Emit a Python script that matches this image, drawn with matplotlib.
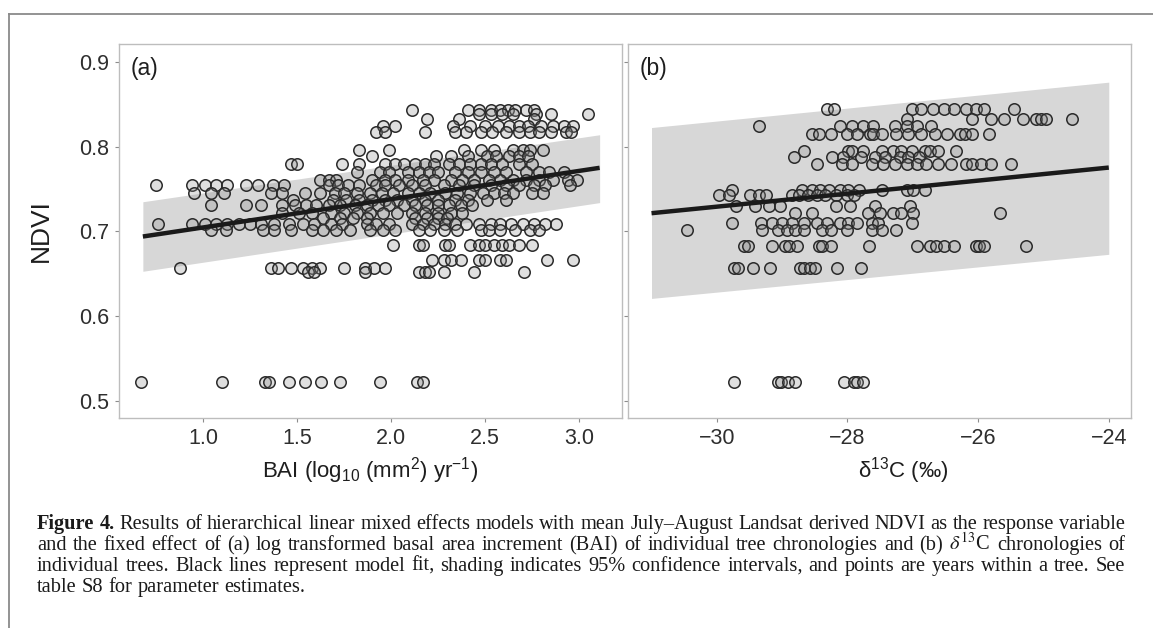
import matplotlib
matplotlib.use("Agg")
import matplotlib.pyplot as plt
from matplotlib.lines import Line2D

plt.rcParams['font.family'] = ['Liberation Sans', 'DejaVu Sans']
plt.rcParams['mathtext.fontset'] = 'custom'
plt.rcParams['mathtext.rm'] = 'Liberation Sans'
plt.rcParams['mathtext.it'] = 'Liberation Sans:italic'
plt.rcParams['mathtext.bf'] = 'Liberation Sans:bold'

W, H = 1153, 628

# =============================================================================
# Panel (a): NDVI vs BAI, points grouped by NDVI level
# =============================================================================
bai_843 = [2.11, 2.41, 2.47, 2.53, 2.58, 2.62, 2.66, 2.72, 2.76]
bai_838 = [2.47, 2.53, 2.59, 2.65, 2.77, 2.85, 3.05]
bai_833 = [2.19, 2.36, 2.76]
bai_824 = [1.96, 2.02, 2.33, 2.42, 2.50, 2.57, 2.63, 2.68, 2.73, 2.80, 2.86, 2.92, 2.97]
bai_817 = [1.92, 1.97, 2.18, 2.34, 2.40, 2.48, 2.54, 2.61, 2.68, 2.74, 2.79, 2.85, 2.93, 2.96]
bai_796 = [1.83, 1.99, 2.39, 2.48, 2.55, 2.65, 2.70, 2.74, 2.81]
bai_789 = [1.90, 2.24, 2.32, 2.41, 2.51, 2.56, 2.63, 2.68, 2.73]
bai_780 = [1.47, 1.50, 1.74, 1.83, 1.97, 2.02, 2.07, 2.13, 2.18, 2.23, 2.31, 2.36,
           2.42, 2.48, 2.53, 2.59, 2.68, 2.75]
bai_770 = [1.82, 1.94, 1.99, 2.09, 2.15, 2.20, 2.25, 2.34, 2.41, 2.48, 2.55, 2.61,
           2.72, 2.79, 2.84, 2.92]
bai_761 = [1.62, 1.67, 1.71, 1.90, 1.97, 2.02, 2.09, 2.17, 2.23, 2.32, 2.38, 2.44,
           2.52, 2.58, 2.65, 2.72, 2.79, 2.86, 2.94, 2.99]
bai_755 = [0.75, 0.94, 1.01, 1.07, 1.13, 1.23, 1.29, 1.37, 1.43, 1.67, 1.72, 1.77,
           1.83, 1.92, 1.97, 2.04, 2.11, 2.18, 2.28, 2.36, 2.44, 2.53, 2.61, 2.68,
           2.76, 2.82, 2.95]
bai_745 = [0.95, 1.04, 1.11, 1.36, 1.42, 1.54, 1.62, 1.70, 1.75, 1.82, 1.89, 1.95,
           2.01, 2.09, 2.15, 2.21, 2.29, 2.35, 2.42, 2.49, 2.55, 2.60, 2.65, 2.75, 2.81]
bai_737 = [1.48, 1.69, 1.76, 1.83, 1.90, 1.97, 2.03, 2.11, 2.18, 2.25, 2.34, 2.41,
           2.51, 2.61]
bai_731 = [1.04, 1.23, 1.31, 1.42, 1.49, 1.55, 1.60, 1.67, 1.73, 1.81, 1.87, 1.93,
           1.99, 2.07, 2.13, 2.19, 2.25, 2.31, 2.37, 2.43]
bai_722 = [1.42, 1.51, 1.58, 1.68, 1.75, 1.82, 1.89, 1.96, 2.03, 2.11, 2.18, 2.25,
           2.32, 2.38]
bai_716 = [1.64, 1.73, 1.80, 1.87, 2.13, 2.19, 2.25, 2.30]
bai_709 = [0.76, 0.94, 1.01, 1.07, 1.13, 1.19, 1.25, 1.31, 1.38, 1.46, 1.53, 1.59,
           1.68, 1.74, 1.87, 1.92, 1.99, 2.11, 2.17, 2.23, 2.29, 2.34, 2.40, 2.47,
           2.53, 2.58, 2.64, 2.70, 2.76, 2.82, 2.88]
bai_702 = [1.04, 1.12, 1.32, 1.38, 1.47, 1.58, 1.64, 1.71, 1.78, 1.89, 1.96, 2.02,
           2.15, 2.21, 2.28, 2.35, 2.48, 2.52, 2.58, 2.66, 2.74, 2.79]
bai_684 = [2.01, 2.15, 2.17, 2.29, 2.31, 2.42, 2.47, 2.50, 2.55, 2.59, 2.63, 2.68, 2.75]
bai_666 = [2.22, 2.28, 2.32, 2.37, 2.47, 2.50, 2.58, 2.61, 2.83, 2.97]
bai_657 = [0.88, 1.36, 1.40, 1.47, 1.53, 1.58, 1.62, 1.75, 1.86, 1.91, 1.97]
bai_652 = [1.56, 1.59, 1.86, 2.15, 2.18, 2.20, 2.28, 2.44, 2.71]
bai_523 = [0.67, 1.10, 1.33, 1.35, 1.46, 1.54, 1.63, 1.73, 1.94, 2.14, 2.17]

rows_a = [(0.843, bai_843), (0.838, bai_838), (0.833, bai_833), (0.824, bai_824),
          (0.817, bai_817), (0.796, bai_796), (0.789, bai_789), (0.780, bai_780),
          (0.770, bai_770), (0.761, bai_761), (0.755, bai_755), (0.745, bai_745),
          (0.737, bai_737), (0.731, bai_731), (0.722, bai_722), (0.716, bai_716),
          (0.709, bai_709), (0.702, bai_702), (0.684, bai_684), (0.666, bai_666),
          (0.657, bai_657), (0.652, bai_652), (0.523, bai_523)]

fit_x_a  = [0.68, 3.11]
fit_y_a  = [0.694, 0.775]
ci_lo_a  = [0.653, 0.734]
ci_hi_a  = [0.735, 0.814]

# =============================================================================
# Panel (b): NDVI vs d13C
# =============================================================================
d13c_844 = [-28.31, -28.20, -27.01, -26.88, -26.69, -26.53, -26.37, -26.18, -26.04,
            -25.91, -25.45]
d13c_832 = [-27.09, -26.10, -25.80, -25.61, -25.31, -25.12, -25.04, -24.96, -24.56]
d13c_824 = [-29.36, -28.12, -27.93, -27.77, -27.61, -27.28, -27.09, -26.93, -26.72]
d13c_815 = [-28.55, -28.44, -28.26, -28.01, -27.85, -27.66, -27.61, -27.47, -27.26,
            -27.07, -26.88, -26.66, -26.47, -26.28, -26.20, -26.10, -25.83]
d13c_795 = [-28.66, -27.99, -27.93, -27.77, -27.47, -27.31, -27.18, -27.01, -26.82,
            -26.74, -26.61, -26.34]
d13c_788 = [-28.82, -28.23, -28.07, -27.80, -27.58, -27.42, -27.20, -27.07, -26.91]
d13c_779 = [-28.46, -28.09, -27.93, -27.63, -27.45, -27.28, -27.09, -26.93, -26.80,
            -26.61, -26.42, -26.18, -26.10, -25.96, -25.80, -25.50]
d13c_749 = [-29.77, -28.69, -28.55, -28.42, -28.28, -28.12, -27.99, -27.82, -27.47,
            -27.09, -26.99, -26.82]
d13c_743 = [-29.96, -29.82, -29.50, -29.36, -29.25, -28.85, -28.74, -28.61, -28.47,
            -28.34, -28.17, -28.01, -27.90]
d13c_730 = [-29.71, -29.42, -29.20, -29.04, -28.17, -27.96, -27.58, -27.04]
d13c_722 = [-28.80, -28.55, -27.69, -27.50, -27.31, -27.18, -26.99, -25.67]
d13c_710 = [-29.77, -29.33, -29.15, -29.01, -28.85, -28.66, -28.47, -28.31, -28.12,
            -27.99, -27.85, -27.63, -27.53, -27.01]
d13c_702 = [-30.45, -29.31, -29.06, -28.93, -28.80, -28.66, -28.39, -28.26, -28.01,
            -27.63, -27.47, -27.26]
d13c_683 = [-29.58, -29.52, -29.15, -28.96, -28.90, -28.77, -28.44, -28.39, -28.26,
            -27.67, -26.93, -26.74, -26.64, -26.53, -26.37, -26.04, -25.99, -25.91,
            -25.27]
d13c_658 = [-29.73, -29.68, -29.45, -29.18, -28.73, -28.66, -28.58, -28.50, -28.16,
            -27.80]
d13c_523 = [-29.73, -29.07, -29.02, -28.91, -28.81, -28.05, -27.90, -27.85, -27.77]

rows_b = [(0.844, d13c_844), (0.832, d13c_832), (0.824, d13c_824), (0.815, d13c_815),
          (0.795, d13c_795), (0.788, d13c_788), (0.779, d13c_779), (0.749, d13c_749),
          (0.743, d13c_743), (0.730, d13c_730), (0.722, d13c_722), (0.710, d13c_710),
          (0.702, d13c_702), (0.683, d13c_683), (0.657, d13c_658), (0.523, d13c_523)]

fit_x_b  = [-31.0, -24.0]
fit_y_b  = [0.7215, 0.7753]
ci_lo_b  = [0.621, 0.673]
ci_hi_b  = [0.8225, 0.876]

xticks_a = [1.0, 1.5, 2.0, 2.5, 3.0]
xticks_b = [-30, -28, -26, -24]
yticks   = [0.5, 0.6, 0.7, 0.8, 0.9]

caption = [
    "Results of hierarchical linear mixed effects models with mean July\u2013August "
    "Landsat derived NDVI as the response variable",
    "and the fixed effect of (a) log transformed basal area increment (BAI) of "
    "individual tree chronologies and (b) $\\delta^{13}$C chronologies of",
    "individual trees. Black lines represent model fit, shading indicates 95% "
    "confidence intervals, and points are years within a tree. See",
    "table S8 for parameter estimates.",
]


def flatten(rows):
    xs, ys = [], []
    for y, vals in rows:
        xs += vals
        ys += [y] * len(vals)
    return xs, ys


def style_panel(ax, xlim, xticks, xlabel, label_x, tag):
    ax.set_xlim(*xlim)
    ax.set_ylim(0.480, 0.921)
    ax.set_xticks(xticks)
    ax.set_yticks(yticks)
    for s in ax.spines.values():
        s.set_color('#bdbdbd')
        s.set_linewidth(1.0)
    ax.tick_params(length=3, width=0.8, color='#8c8c8c', labelsize=15.5,
                   labelcolor='#2e2e2e', pad=4)
    ax.set_xlabel(xlabel, fontsize=16, color='#1e1e1e', va='baseline')
    ax.xaxis.set_label_coords(label_x, -60 / 374)
    ax.text(0.024, 0.935, tag, transform=ax.transAxes, fontsize=16.5,
            color='#1e1e1e', ha='left', va='center')


def draw_panel(ax, rows, fit_x, fit_y, lo, hi):
    xs, ys = flatten(rows)
    ax.fill_between(fit_x, lo, hi, color='#d7d7d7', lw=0, zorder=1)
    ax.scatter(xs, ys, s=68, facecolor=(0.55, 0.55, 0.55, 0.28),
               edgecolor='#2a2a2a', linewidth=1.1, zorder=3)
    ax.plot(fit_x, fit_y, color='#1a1a1a', lw=3.2, solid_capstyle='butt', zorder=4)


def make_words(fig, words, size):
    arts = []
    for w, bold in words:
        t = fig.text(0, 0, w, fontsize=size, family='Liberation Serif',
                     fontweight='bold' if bold else 'normal', color='#1a1a1a',
                     ha='left', va='baseline', math_fontfamily='stix')
        arts.append(t)
    return arts


def line_words(i, line):
    words = [(w, False) for w in line.split(" ")]
    if i == 0:
        words = [("Figure", True), ("4.", True)] + words
    return words


def caption_block(fig, lines, baselines, x0, x1):
    r = fig.canvas.get_renderer()
    # pick a size so the widest justified line fits with normal spacing
    base = 12.0
    ratios = []
    for i, line in enumerate(lines[:3]):
        arts = make_words(fig, line_words(i, line), base)
        nat = sum(t.get_window_extent(r).width for t in arts)
        nat += 0.25 * base * fig.dpi / 72 * (len(arts) - 1)
        ratios.append((x1 - x0) / nat)
        for t in arts:
            t.remove()
    size = base * min(ratios)

    for i, line in enumerate(lines):
        arts = make_words(fig, line_words(i, line), size)
        widths = [t.get_window_extent(r).width for t in arts]
        space = 0.25 * size * fig.dpi / 72
        if i < 3:
            space = (x1 - x0 - sum(widths)) / (len(arts) - 1)
        x = x0
        for t, w in zip(arts, widths):
            t.set_position((x / W, 1 - baselines[i] / H))
            x += w + space


def main():
    fig = plt.figure(figsize=(W / 100, H / 100), dpi=100)
    fig.patch.set_facecolor('white')

    ax_a = fig.add_axes([119 / W, 1 - 418 / H, 503 / W, 374 / H])
    ax_b = fig.add_axes([628 / W, 1 - 418 / H, 503 / W, 374 / H])

    draw_panel(ax_a, rows_a, fit_x_a, fit_y_a, ci_lo_a, ci_hi_a)
    draw_panel(ax_b, rows_b, fit_x_b, fit_y_b, ci_lo_b, ci_hi_b)

    style_panel(ax_a, (0.553, 3.229), xticks_a,
                r"BAI (log$_{10}$ (mm$^2$) yr$^{-1}$)", 0.5, "(a)")
    style_panel(ax_b, (-31.36, -23.66), xticks_b, "\u03b4$^{13}$C (\u2030)",
                0.548, "(b)")
    ax_a.set_yticklabels([f"{v:.1f}" for v in yticks])
    ax_a.set_ylabel("NDVI", fontsize=19, color='#1e1e1e', va='center')
    ax_a.yaxis.set_label_coords(-78 / 503, 0.5)
    ax_b.tick_params(labelleft=False)

    # outer frame (top and left only)
    fig.add_artist(Line2D([9 / W, 1.0], [1 - 14 / H, 1 - 14 / H],
                          transform=fig.transFigure, color='#8a8a8a', lw=1.3))
    fig.add_artist(Line2D([9 / W, 9 / W], [1 - 14 / H, 0.0],
                          transform=fig.transFigure, color='#8a8a8a', lw=1.3))

    # caption, justified lines
    caption_block(fig, caption, [529, 550, 571, 592], 37, 1125)

    fig.savefig("out.png", dpi=100)
    plt.close(fig)


if __name__ == "__main__":
    main()
